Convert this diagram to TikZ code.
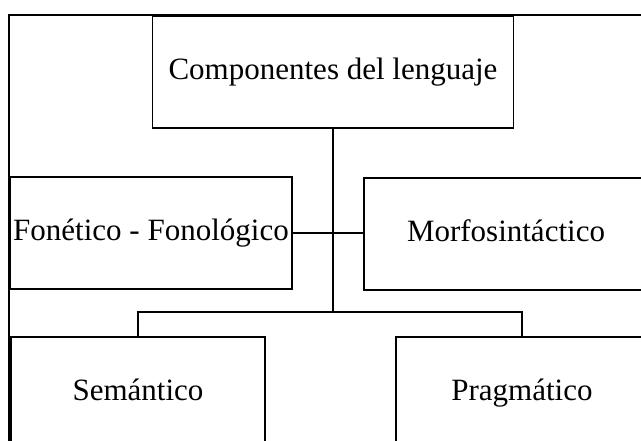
\documentclass[tikz,border=0pt]{standalone}
\usepackage{fontspec}
\setmainfont{Liberation Serif}
\begin{document}
\begin{tikzpicture}[x=1pt,y=-1pt,
  box/.style={draw=black, line width=1.6pt, rectangle, inner sep=0pt, minimum height=112pt,
    text height=21pt, text depth=7pt,
    font=\fontsize{31}{37}\selectfont, anchor=center},
  conn/.style={draw=black, line width=1.6pt}]
\useasboundingbox (0,0) rectangle (641,440);
\clip (0,0) rectangle (641,440);
\fill[white] (0,0) rectangle (641,440);
% outer frame (cropped)
\draw[line width=1.6pt] (9,15) rectangle (760,560);
\node[box, minimum width=361pt] (top) at (333,72) {Componentes del lenguaje};
\node[box, minimum width=282pt] (fon) at (151,233) {Fonético - Fonológico};
\node[box, minimum width=284pt] (morf) at (506,234) {Morfosintáctico};
\node[box, minimum width=254pt] (sem) at (138,393) {Semántico};
\node[box, minimum width=252pt] (prag) at (522,393) {Pragmático};
\coordinate (j) at (333,312);
\draw[conn] (top.south) -- (j);
\draw[conn] (sem.north) |- (j) -| (prag.north);
\draw[conn] (fon.east) -- (fon.east -| morf.west);
\end{tikzpicture}
\end{document}
